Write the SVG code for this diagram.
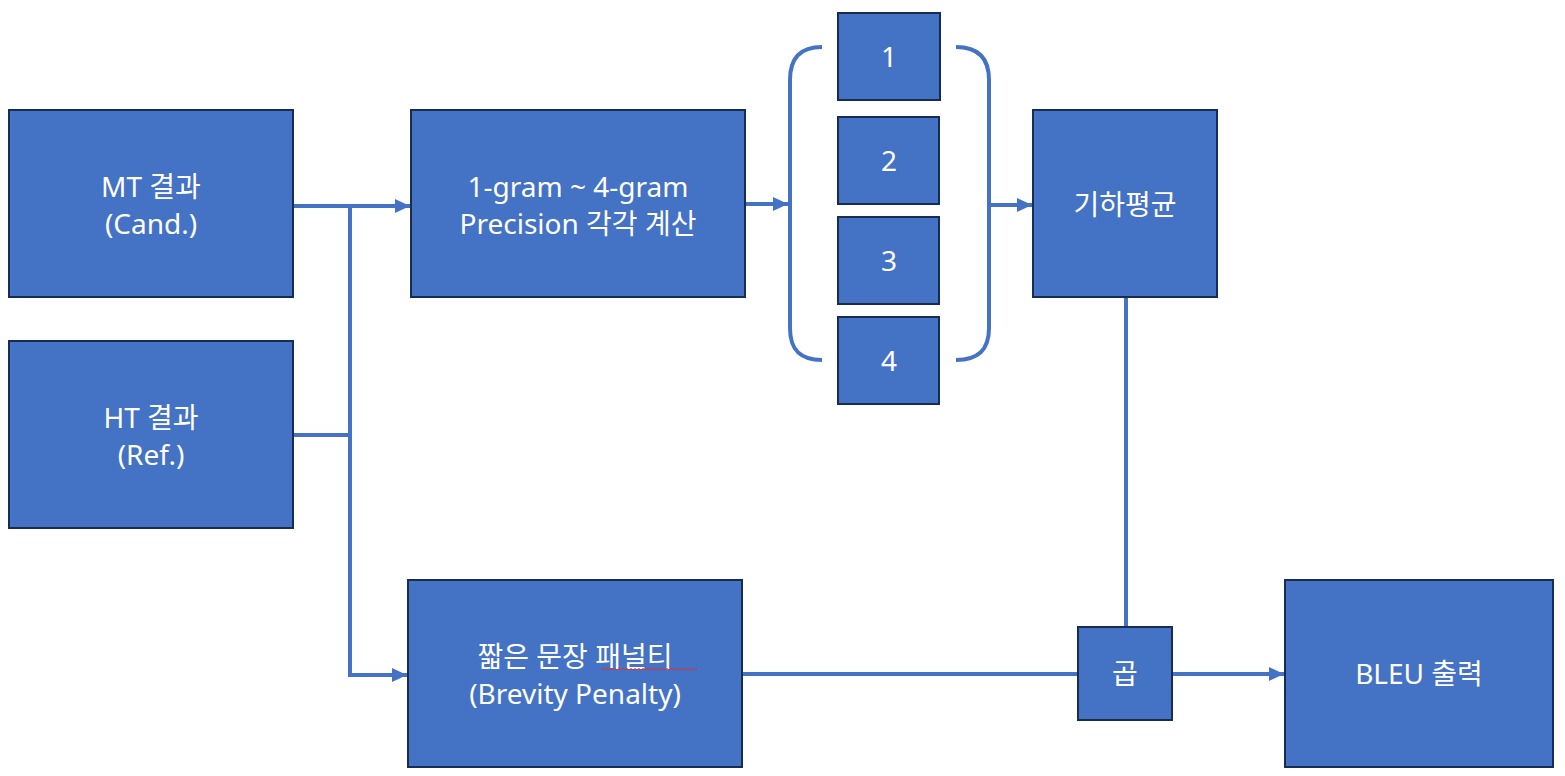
<svg xmlns="http://www.w3.org/2000/svg" width="1565" height="776" viewBox="0 0 1565 776">
<defs>
<style>
.box{fill:#4472C4;stroke:#172C51;stroke-width:2}
.t{fill:#fff;font-family:"Noto Sans","Noto Sans CJK KR",sans-serif;font-size:28px;text-anchor:middle}
.c{fill:none;stroke:#4472C4;stroke-width:4}
</style>
<marker id="ar" viewBox="0 0 15 14" refX="15" refY="7" markerWidth="15" markerHeight="14" markerUnits="userSpaceOnUse" orient="auto">
<path d="M0,0 L15,7 L0,14 Z" fill="#4472C4"/>
</marker>
</defs>
<rect width="1565" height="776" fill="#fff"/>
<g id="connectors">
<path class="c" d="M293,206 H410" marker-end="url(#ar)"/>
<path class="c" d="M350,206 V675 H407" marker-end="url(#ar)"/>
<path class="c" d="M293,435 H350"/>
<path class="c" d="M745,204 H788" marker-end="url(#ar)"/>
<path class="c" d="M822,47 C800,47 790,58 790,80 V328 C790,350 800,360 822,360"/>
<path class="c" d="M956,47 C978,47 989,58 989,80 V328 C989,350 978,360 956,360"/>
<path class="c" d="M989,205 H1032" marker-end="url(#ar)"/>
<path class="c" d="M1126,297 V627"/>
<path class="c" d="M742,674 H1078"/>
<path class="c" d="M1172,674 H1284" marker-end="url(#ar)"/>
</g>
<g id="mt"><rect class="box" x="9" y="110" width="284" height="187"/><text class="t" x="151" y="197">MT 결과</text><text class="t" x="151" y="234">(Cand.)</text></g>
<g id="ht"><rect class="box" x="9" y="341" width="284" height="187"/><text class="t" x="151" y="428">HT 결과</text><text class="t" x="151" y="465">(Ref.)</text></g>
<g id="precision"><rect class="box" x="411" y="110" width="334" height="187"/><text class="t" x="578" y="197">1-gram ~ 4-gram</text><text class="t" x="578" y="234">Precision 각각 계산</text></g>
<g id="n1"><rect class="box" x="838" y="13" width="102" height="87"/><text class="t" x="889" y="67">1</text></g>
<g id="n2"><rect class="box" x="838" y="117" width="101" height="87"/><text class="t" x="889" y="171">2</text></g>
<g id="n3"><rect class="box" x="838" y="217" width="101" height="87"/><text class="t" x="889" y="271">3</text></g>
<g id="n4"><rect class="box" x="838" y="317" width="101" height="87"/><text class="t" x="889" y="371">4</text></g>
<g id="geomean"><rect class="box" x="1033" y="110" width="184" height="187"/><text class="t" x="1125" y="215">기하평균</text></g>
<g id="bp"><rect class="box" x="408" y="580" width="334" height="187"/><text class="t" x="575" y="667">짧은 문장 패널티</text><text class="t" x="575" y="704">(Brevity Penalty)</text>
<path d="M601,670 l2,-1.5 l2,1.5 l2,-1.5 l2,1.5 l2,-1.5 l2,1.5 l2,-1.5 l2,1.5 l2,-1.5 l2,1.5 l2,-1.5 l2,1.5 l2,-1.5 l2,1.5 l2,-1.5 l2,1.5 l2,-1.5 l2,1.5 l2,-1.5 l2,1.5 l2,-1.5 l2,1.5 l2,-1.5 l2,1.5 l2,-1.5 l2,1.5 l2,-1.5 l2,1.5 l2,-1.5 l2,1.5 l2,-1.5 l2,1.5 l2,-1.5 l2,1.5 l2,-1.5 l2,1.5 l2,-1.5 l2,1.5 l2,-1.5 l2,1.5 l2,-1.5 l2,1.5 l2,-1.5 l2,1.5 l2,-1.5 l2,1.5 l2,-1.5 l2,1.5" fill="none" stroke="#E03030" stroke-width="1"/></g>
<g id="mul"><rect class="box" x="1078" y="627" width="94" height="93"/><text class="t" x="1125" y="684">곱</text></g>
<g id="bleu"><rect class="box" x="1285" y="580" width="268" height="187"/><text class="t" x="1419" y="684">BLEU 출력</text></g>
</svg>
